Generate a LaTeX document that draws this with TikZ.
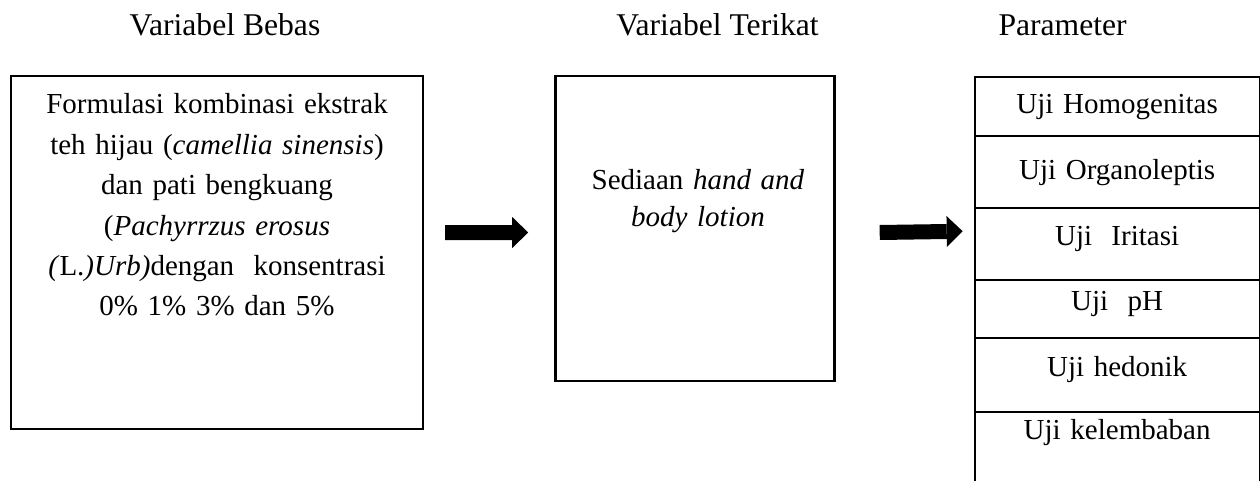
\documentclass[tikz,border=0pt]{standalone}
\usepackage{fontspec}
\setmainfont{Liberation Serif}
\usetikzlibrary{matrix, positioning, arrows.meta}

\begin{document}
\begin{tikzpicture}[
	every node/.style={font=\fontsize{16.5}{23}\selectfont},
	judul/.style={anchor=base, font=\fontsize{18}{22}\selectfont},
	box/.style={draw, line width=1.4pt, inner sep=0pt},
	block arrow/.style={line width=0.3cm, -{Triangle[length=0.32cm, width=0.62cm, line width=0pt]}}
	]
	
	\tikzset{param column/.style={
			matrix of nodes,
			line width=1.1pt,
			inner sep=0pt,
			row sep=-\pgflinewidth,
			nodes={draw,
				text width=#1,
				align=center,
				inner sep=0pt,
				text height=0.44cm,
				text depth=0.14cm,
				anchor=center
			},
		},
		param column/.default=5.7cm
	}
	
	\useasboundingbox (0,0) rectangle (25.2,9.6);
	\clip (0,0) rectangle (25.2,9.6);
	
	% kotak
	\node[box, minimum width=8.24cm, minimum height=7.06cm] (bebas) at (4.34,4.55) {};
	\node[box, minimum width=5.58cm, minimum height=6.1cm, anchor=north west] (terikat) at ([xshift=2.6cm]bebas.north east) {};
	
	\matrix[param column, anchor=north west] (param) at ([xshift=2.74cm]terikat.north east)
	{
		|[minimum height=1.18cm]| Uji Homogenitas \\
		|[minimum height=1.44cm]| Uji Organoleptis \\
		|[minimum height=1.44cm, text depth=0.38cm]| Uji~~Iritasi \\
		|[minimum height=1.16cm, text depth=0.38cm]| Uji~~pH \\
		|[minimum height=1.48cm, text depth=0.38cm]| Uji hedonik \\
		|[minimum height=2cm, text depth=1.32cm]| Uji kelembaban \\
	};
	
	% isi
	\node[anchor=base, text width=8cm, align=center] (isibebas) at ([yshift=-0.78cm]bebas.north)
	{Formulasi kombinasi ekstrak\\
		teh hijau (\textit{camellia sinensis})\\
		dan pati bengkuang\\
		(\textit{Pachyrrzus erosus}\\
		\textit{(}L.\textit{)Urb)}dengan~~konsentrasi\\
		0\% 1\% 3\% dan 5\%};
	\node[anchor=base, text width=5.4cm, align=center, font=\fontsize{16.5}{21}\selectfont] (isiterikat) at ([shift={(0.06,-2.3)}]terikat.north)
	{Sediaan \textit{hand and}\\ \textit{body lotion}};
	
	% judul
	\node[judul] (judulbebas) at ([shift={(0.16,0.78)}]bebas.north) {Variabel Bebas};
	\node[judul] (judulterikat) at ([shift={(0.45,0.78)}]terikat.north) {Variabel Terikat};
	\node[judul] (judulparam) at ([shift={(-1.09,0.78)}]param.north) {Parameter};
	
	% panah
	\draw[block arrow] ([shift={(0.42,0.4)}]bebas.east) -- ([shift={(-0.52,-0.08)}]terikat.west);
	\draw[block arrow] ([shift={(0.88,-0.08)}]terikat.east) -- ([shift={(-0.20,-3.13)}]param.north west);
	
\end{tikzpicture}
\end{document}
